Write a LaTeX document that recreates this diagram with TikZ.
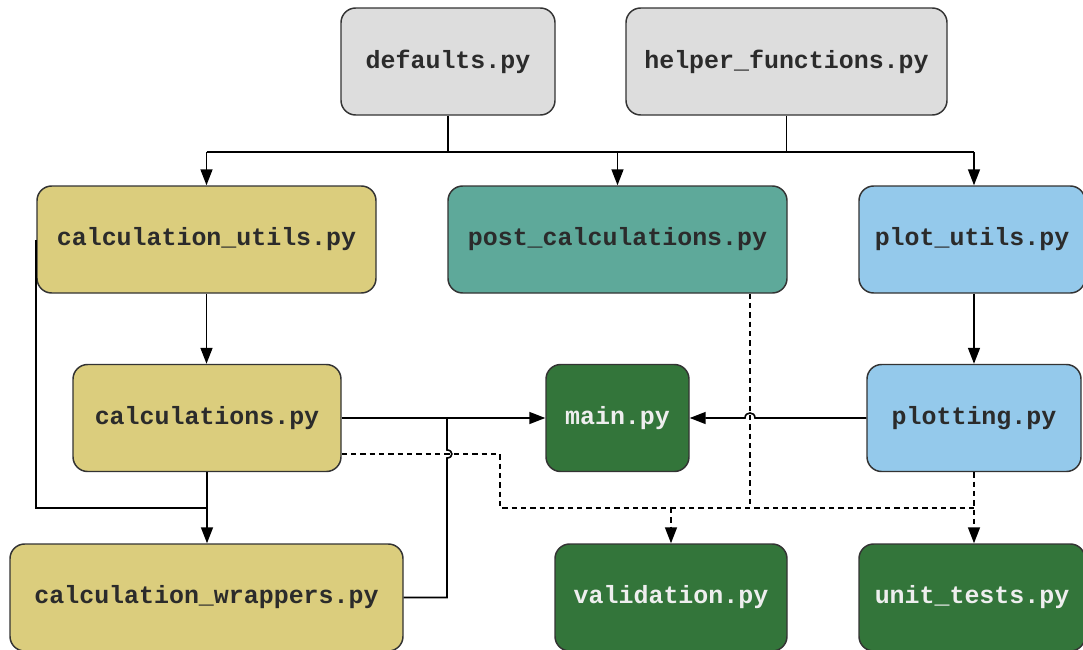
\documentclass[tikz,border=0pt]{standalone}
\usepackage{fontspec}
\setmonofont{Liberation Mono}
\usetikzlibrary{arrows.meta,calc}
\definecolor{cgray}{HTML}{DDDDDD}
\definecolor{cyel}{HTML}{DBCD7D}
\definecolor{cteal}{HTML}{5EA99A}
\definecolor{cblue}{HTML}{94C9EB}
\definecolor{cgreen}{HTML}{33753A}
\definecolor{cborder}{HTML}{333333}
\definecolor{ctext}{HTML}{2B2B2B}
\definecolor{cwtext}{HTML}{EEEEEE}
\begin{document}
\begin{tikzpicture}[x=0.75pt,y=-0.75pt,
  filebox/.style={draw=cborder,line width=1.1pt,rounded corners=11pt,minimum height=80.25pt,
    inner sep=0pt,font=\ttfamily\bfseries\fontsize{18.7}{22}\selectfont,text=ctext},
  darkbox/.style={filebox,fill=cgreen,text=cwtext},
  ln/.style={line width=1.2pt,black},
  arr/.style={ln,-{Triangle[length=12pt,width=9pt]}},
  dsh/.style={ln,dash pattern=on 4pt off 3pt},
  dsharr/.style={dsh,-{Triangle[length=12pt,width=9pt]}}]
\useasboundingbox (0,0) rectangle (1083,650);
% nodes
\node[filebox,fill=cgray,minimum width=160.5pt] (def) at (448,61.5) {defaults.py};
\node[filebox,fill=cgray,minimum width=240.75pt] (help) at (786.5,61.5) {helper\_functions.py};
\node[filebox,fill=cyel,minimum width=254.25pt] (cu) at (206.5,239.5) {calculation\_utils.py};
\node[filebox,fill=cteal,minimum width=254.25pt] (pc) at (617.5,239.5) {post\_calculations.py};
\node[filebox,fill=cblue,minimum width=169.5pt] (pu) at (972,239.5) {plot\_utils.py};
\node[filebox,fill=cyel,minimum width=201pt] (calc) at (207,418) {calculations.py};
\node[darkbox,minimum width=107.25pt] (main) at (617.5,418) {main.py};
\node[filebox,fill=cblue,minimum width=160.5pt] (plt) at (974,418) {plotting.py};
\node[filebox,fill=cyel,minimum width=294.75pt] (wrap) at (206.5,597.5) {calculation\_wrappers.py};
\node[darkbox,minimum width=174pt] (val) at (671,597.5) {validation.py};
\node[darkbox,minimum width=169.5pt] (ut) at (972,597.5) {unit\_tests.py};
% helper coordinates
\coordinate (bus) at (0,152);
\coordinate (low) at (0,508);
\coordinate (dash) at (0,454);
\coordinate (jx) at (447,418);
\coordinate (dx) at (500,454);
\coordinate (pcx) at ($(pc.south)+(132.5,0)$);
% top bus
\draw[ln] (def.south) -- (def.south |- bus);
\draw[ln] (help.south) -- (help.south |- bus);
\draw[ln] (cu.north |- bus) -- (plt.north |- bus);
\draw[arr] (cu.north |- bus) -- (cu.north);
\draw[arr] (pc.north |- bus) -- (pc.north);
\draw[arr] (plt.north |- bus) -- (plt.north |- pu.north);
% left column
\draw[arr] (cu.south) -- (cu.south |- calc.north);
\draw[arr] (calc.south) -- (calc.south |- wrap.north);
\draw[ln] (cu.west) -- (cu.west |- low) -- (calc.south |- low);
% to main
\draw[arr] (calc.east) -- (main.west);
\draw[ln] (wrap.east) -- (jx |- wrap.east) -- ($(jx |- dash)+(0,4)$)
  .. controls ($(jx |- dash)+(6.5,4)$) and ($(jx |- dash)+(6.5,-4)$) .. ($(jx |- dash)+(0,-4)$) -- (jx);
\draw[arr] (plt.west) -- ($(pcx |- plt.west)+(5,0)$)
  .. controls ($(pcx |- plt.west)+(5,-6.7)$) and ($(pcx |- plt.west)+(-5,-6.7)$) .. ($(pcx |- plt.west)+(-5,0)$) -- (main.east);
\draw[arr] (pu.south -| plt.north) -- (plt.north);
% dashed
\draw[dsh] (calc.east |- dash) -- (dx) -- (dx |- low) -- (plt.south |- low);
\draw[dsh] (pcx) -- (pcx |- low);
\draw[dsharr] (val.north |- low) -- (val.north);
\draw[dsharr] (plt.south) -- (plt.south |- ut.north);
\end{tikzpicture}
\end{document}
